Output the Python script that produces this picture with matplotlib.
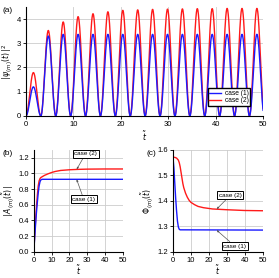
import numpy as np
import matplotlib
matplotlib.use("Agg")
import matplotlib.pyplot as plt

BLUE = "#1a1aff"
RED = "#ff1a1a"

# (a) peak height of each lobe of |psi|^2 (one lobe per pi in t)
PEAKS_1 = [1.20, 3.30, 3.37, 3.37, 3.37, 3.37, 3.37, 3.37, 3.37, 3.37, 3.37, 3.37, 3.37, 3.37, 3.37, 3.37]
PEAKS_2 = [1.79, 3.53, 3.88, 4.10, 4.22, 4.30, 4.36, 4.38, 4.40, 4.41, 4.42, 4.43, 4.43, 4.44, 4.44, 4.44]

# (b) amplitude |A|
T_A1 = [0, 0.5, 1, 1.5, 2, 2.5, 3, 3.5, 4, 4.5, 5, 50]
A_1 = [0, 0.17, 0.34, 0.50, 0.63, 0.75, 0.84, 0.895, 0.918, 0.924, 0.925, 0.925]
T_A2 = [0, 0.5, 1, 1.5, 2, 2.5, 3, 3.5, 4, 5, 6, 8, 10, 12, 15, 20, 25, 30, 40, 50]
A_2 = [0, 0.20, 0.40, 0.57, 0.72, 0.84, 0.905, 0.935, 0.948, 0.962, 0.975, 0.995, 1.012,
       1.025, 1.038, 1.047, 1.052, 1.055, 1.057, 1.057]

# (c) phase Phi
T_P1 = [0, 0.5, 1, 1.5, 2, 2.5, 3, 3.5, 4, 50]
P_1 = [1.571, 1.53, 1.47, 1.41, 1.36, 1.32, 1.297, 1.288, 1.286, 1.285]
T_P2 = [0, 1, 2, 3, 3.5, 4, 4.5, 5, 5.5, 6, 7, 8, 9, 10, 12, 14, 17, 22, 30, 40, 50]
P_2 = [1.571, 1.571, 1.568, 1.560, 1.550, 1.534, 1.512, 1.490, 1.468, 1.452, 1.430, 1.414,
       1.402, 1.394, 1.385, 1.378, 1.373, 1.368, 1.365, 1.362, 1.361]

plt.rcParams["font.size"] = 5.5
plt.rcParams["font.family"] = "Liberation Sans"


def style(ax):
    ax.grid(True, color="#cccccc", linewidth=0.6)
    ax.set_axisbelow(True)
    for side in ("top", "right"):
        ax.spines[side].set_visible(False)
    for side in ("left", "bottom"):
        ax.spines[side].set_linewidth(0.8)
    ax.tick_params(direction="out", length=2, width=0.6, pad=1.5, labelsize=5.5)


def lobes(peaks):
    t_all, y_all = [], []
    for k, p in enumerate(peaks):
        t = np.linspace(k * np.pi, min((k + 1) * np.pi, 50), 60)
        t_all.append(t)
        y_all.append(p * np.sin(t) ** 2)
    return np.concatenate(t_all), np.concatenate(y_all)


fig = plt.figure(figsize=(2.79, 2.78), dpi=100)

ax = fig.add_axes([0.093, 0.583, 0.850, 0.392])
style(ax)
t1, y1 = lobes(PEAKS_1)
t2, y2 = lobes(PEAKS_2)
ax.plot(t2, y2, color=RED, lw=1.0, label="case (2)")
ax.plot(t1, y1, color=BLUE, lw=1.0, label="case (1)")
ax.set_xlim(0, 50)
ax.set_ylim(0, 4.5)
ax.set_yticks([0, 1, 2, 3, 4])
ax.set_xticks([0, 10, 20, 30, 40, 50])
ax.set_xlabel(r"$\tilde{t}$", labelpad=1)
ax.set_ylabel(r"$|\,\psi_{(m)}(\tilde{t})\,|^2$", labelpad=1)
h, l = ax.get_legend_handles_labels()
ax.legend(h[::-1], l[::-1], loc="lower right", bbox_to_anchor=(0.96, 0.06), fontsize=4.8,
          fancybox=False, edgecolor="black", framealpha=1, handlelength=1.8,
          borderpad=0.25, labelspacing=0.05, handletextpad=0.5)
fig.text(0.01, 0.975, "(a)", fontsize=6, va="top")

box = dict(boxstyle="square,pad=0.25", fc="white", ec="black", lw=0.7)
arr = dict(arrowstyle="-|>,head_length=0.25,head_width=0.1", color="#555555", lw=0.5,
           shrinkA=0, shrinkB=0)

bx = fig.add_axes([0.121, 0.0946, 0.320, 0.366])
style(bx)
bx.plot(T_A2, A_2, color=RED, lw=1.0)
bx.plot(T_A1, A_1, color=BLUE, lw=1.0)
bx.set_xlim(0, 50)
bx.set_ylim(0, 1.3)
bx.set_yticks(np.arange(0, 1.21, 0.2))
bx.set_xticks([0, 10, 20, 30, 40, 50])
bx.set_xlabel(r"$\tilde{t}$", labelpad=0)
bx.set_ylabel(r"$|\,A_{(m)}(\tilde{t})\,|$", labelpad=1)
bx.annotate("case (2)", xy=(24, 1.05), xytext=(29, 1.25), fontsize=4.6, ha="center", va="center",
            bbox=box, arrowprops=arr)
bx.annotate("case (1)", xy=(24, 0.925), xytext=(28, 0.67), fontsize=4.6, ha="center", va="center",
            bbox=box, arrowprops=arr)
fig.text(0.01, 0.46, "(b)", fontsize=6, va="top")

cx = fig.add_axes([0.620, 0.0946, 0.3215, 0.366])
style(cx)
cx.plot(T_P2, P_2, color=RED, lw=1.0)
cx.plot(T_P1, P_1, color=BLUE, lw=1.0)
cx.set_xlim(0, 50)
cx.set_ylim(1.2, 1.6)
cx.set_yticks([1.2, 1.3, 1.4, 1.5, 1.6])
cx.set_xticks([0, 10, 20, 30, 40, 50])
cx.set_xlabel(r"$\tilde{t}$", labelpad=0)
cx.set_ylabel(r"$\Phi_{(m)}(\tilde{t})$", labelpad=1)
cx.annotate("case (2)", xy=(24.3, 1.367), xytext=(32, 1.422), fontsize=4.6, ha="center", va="center",
            bbox=box, arrowprops=arr)
cx.annotate("case (1)", xy=(24.3, 1.285), xytext=(34.5, 1.222), fontsize=4.6, ha="center", va="center",
            bbox=box, arrowprops=arr)
fig.text(0.525, 0.46, "(c)", fontsize=6, va="top")

fig.savefig("out.png", dpi=100)
